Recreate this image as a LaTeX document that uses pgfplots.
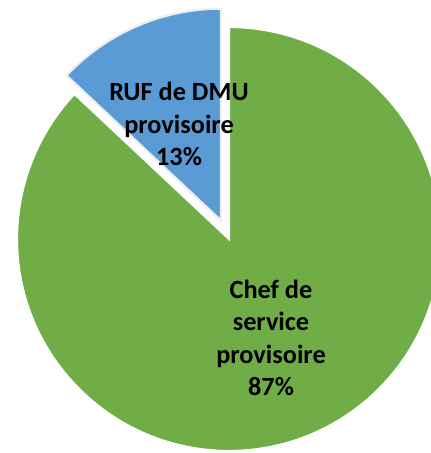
\documentclass[border=0pt]{standalone}
\usepackage{pgfplots}
\usepackage{fontspec}
\setmainfont{Carlito}
\pgfplotsset{compat=1.18}

\definecolor{chefgreen}{RGB}{112,173,71}
\definecolor{rufblue}{RGB}{91,155,213}
\definecolor{edgegray}{RGB}{238,238,238}

\begin{document}
\begin{tikzpicture}

% shares (percent)
\pgfmathsetmacro{\pchef}{87}
\pgfmathsetmacro{\pruf}{13}
\pgfmathsetmacro{\angchef}{360*(\pchef/(\pchef+\pruf))}
\pgfmathsetmacro{\angruf}{360*(\pruf/(\pchef+\pruf))}
% pie centre and radius (axis units = pt)
\pgfmathsetmacro{\cx}{229}
\pgfmathsetmacro{\cy}{214}
\pgfmathsetmacro{\rr}{212}
% exploded slice
\pgfmathsetmacro{\bx}{\cx+20*cos(90+\angruf/2)}
\pgfmathsetmacro{\by}{\cy+20*sin(90+\angruf/2)}

\begin{axis}[
    width=431pt, height=453pt,
    scale only axis,
    xmin=0, xmax=431,
    ymin=0, ymax=453,
    hide axis,
    clip=true,
]

% --- Chef de service provisoire ---
\fill[chefgreen, draw=white, line width=2.2pt, line join=miter]
    (axis cs:\cx,\cy) -- (axis cs:\cx,\cy+\rr)
    arc[start angle=90, end angle=90-\angchef, radius=\rr] -- cycle;

% --- RUF de DMU provisoire (exploded) ---
\fill[rufblue, draw=edgegray, line width=2.2pt, line join=miter]
    (axis cs:\bx,\by) -- (axis cs:\bx,\by+\rr)
    arc[start angle=90, end angle=90+\angruf, radius=\rr] -- cycle;

% --- data labels ---
\node[font=\bfseries\fontsize{26.3}{32.3}\selectfont, align=center]
    at (axis cs:271,115) {Chef de\\service\\provisoire\\87\%};
\node[font=\bfseries\fontsize{26.3}{32.3}\selectfont, align=center]
    at (axis cs:179,329) {RUF de DMU\\provisoire\\13\%};

\end{axis}

% crop the page to the plot area (the pie runs past the right edge)
\pgfresetboundingbox
\path (current axis.south west) rectangle (current axis.north east);
\end{tikzpicture}
\end{document}
